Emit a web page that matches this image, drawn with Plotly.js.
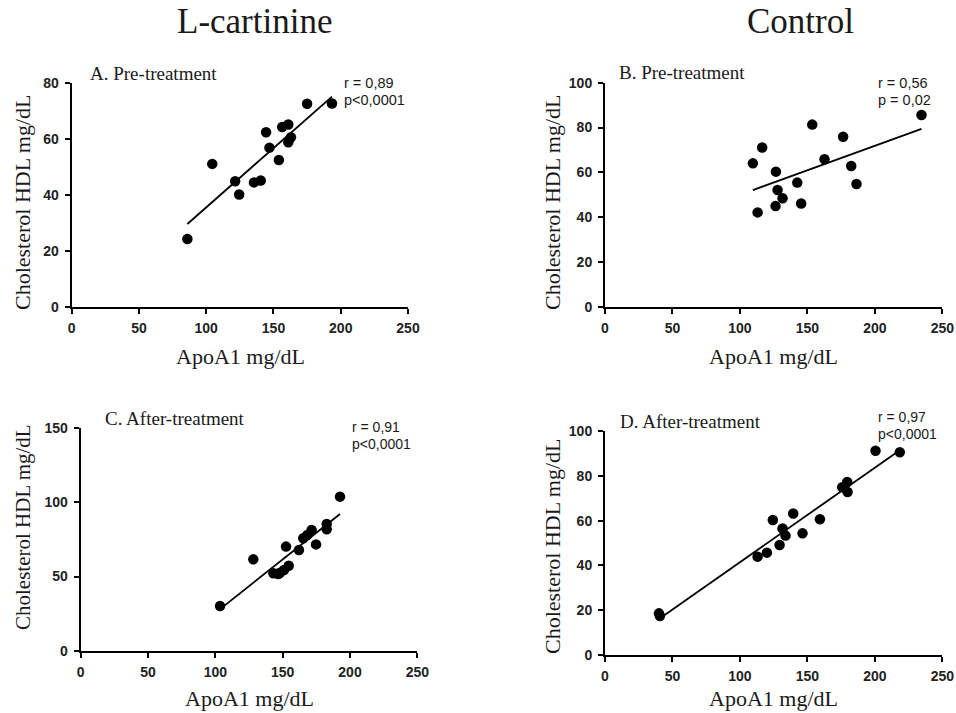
<!DOCTYPE html>
<html>
<head>
<meta charset="utf-8">
<script src="https://cdn.plot.ly/plotly-3.0.1.min.js"></script>
<style>html,body{margin:0;padding:0;background:#fff;}#chart{width:956px;height:713px;}</style>
</head>
<body>
<div id="chart"></div>
<script>
// ---- Data ----
const groupTitles = ["L-cartinine", "Control"];
const panelTitles = ["A. Pre-treatment", "B. Pre-treatment", "C. After-treatment", "D. After-treatment"];
const rLabels = ["r = 0,89", "r = 0,56", "r = 0,91", "r = 0,97"];
const pLabels = ["p&lt;0,0001", "p = 0,02", "p&lt;0,0001", "p&lt;0,0001"];
const xTitle = "ApoA1 mg/dL";
const yTitle = "Cholesterol HDL mg/dL";

// Panel A: L-cartinine, pre-treatment
const apoA_A = [86, 104.5, 121.5, 124.5, 135.5, 140.5, 144.5, 147, 154, 156.5, 161, 163, 161, 175, 193.5];
const hdl_A  = [24.2, 51, 44.8, 40.1, 44.4, 45.1, 62.3, 56.8, 52.4, 64.2, 65.1, 60.5, 58.7, 72.5, 72.6];

// Panel B: Control, pre-treatment
const apoA_B = [109.6, 116.5, 113.1, 126.7, 127.9, 131.6, 126.4, 142.5, 145.4, 153.6, 162.7, 176.5, 182.5, 186.4, 234.6];
const hdl_B  = [64, 71.1, 42.1, 60.3, 52.1, 48.4, 44.9, 55.4, 46.1, 81.3, 65.8, 75.9, 62.8, 54.8, 85.6];

// Panel C: L-cartinine, after-treatment
const apoA_C = [103.5, 128.2, 152.5, 143.1, 146.8, 148, 151, 154.5, 162.1, 165.3, 168.3, 171.5, 174.8, 182.7, 182.7, 192.6];
const hdl_C  = [30.1, 61.6, 70.2, 52.2, 51.7, 52.6, 54.4, 57.3, 67.9, 75.8, 78, 81.4, 71.7, 85.5, 81.9, 103.9];

// Panel D: Control, after-treatment
const apoA_D = [40, 40.7, 113.1, 120, 124.4, 129.4, 131.6, 133.8, 139.5, 146.4, 159.3, 175.8, 179.5, 179.8, 200.5, 218.5];
const hdl_D  = [18.6, 17.4, 43.9, 45.7, 60.3, 49.1, 56.5, 53.3, 63.2, 54.3, 60.6, 74.9, 77.2, 72.8, 91.2, 90.5];

const xTicks = [0, 50, 100, 150, 200, 250];
const yTicksA = [0, 20, 40, 60, 80];
const yTicksB = [0, 20, 40, 60, 80, 100];
const yTicksC = [0, 50, 100, 150];
const yTicksD = [0, 20, 40, 60, 80, 100];

// ---- helpers ----
const W = 956, H = 713;
const px = x => x / W;
const py = y => 1 - y / H;

function fitLine(xs, ys) {
  const n = xs.length;
  const mx = xs.reduce((a, b) => a + b, 0) / n;
  const my = ys.reduce((a, b) => a + b, 0) / n;
  let sxy = 0, sxx = 0;
  for (let i = 0; i < n; i++) { sxy += (xs[i] - mx) * (ys[i] - my); sxx += (xs[i] - mx) ** 2; }
  const b = sxy / sxx, a = my - b * mx;
  const x0 = Math.min(...xs), x1 = Math.max(...xs);
  return { x: [x0, x1], y: [a + b * x0, a + b * x1] };
}

const panels = [
  { xs: apoA_A, ys: hdl_A, xa: 'x', ya: 'y' },
  { xs: apoA_B, ys: hdl_B, xa: 'x2', ya: 'y2' },
  { xs: apoA_C, ys: hdl_C, xa: 'x3', ya: 'y3' },
  { xs: apoA_D, ys: hdl_D, xa: 'x4', ya: 'y4' }
];

const traces = [];
panels.forEach(p => {
  const f = fitLine(p.xs, p.ys);
  traces.push({ x: f.x, y: f.y, xaxis: p.xa, yaxis: p.ya, mode: 'lines', type: 'scatter',
    line: { color: '#000', width: 1.8 }, hoverinfo: 'skip', showlegend: false, cliponaxis: false });
  traces.push({ x: p.xs, y: p.ys, xaxis: p.xa, yaxis: p.ya, mode: 'markers', type: 'scatter',
    marker: { color: '#000', size: 10.5 }, showlegend: false, cliponaxis: false });
});

const tickFont = { family: 'Liberation Sans Narrow, Liberation Sans, Arial, sans-serif', size: 14, color: '#222', weight: 'bold' };
function xAxis(domain, anchor) {
  return { domain: domain, anchor: anchor, range: [0, 250], tickvals: xTicks, ticktext: xTicks.map(String),
    showline: true, linecolor: '#000', linewidth: 2, ticks: 'outside', ticklen: 5, tickwidth: 2, tickcolor: '#000',
    showgrid: false, zeroline: false, tickfont: tickFont, ticklabelstandoff: 2 };
}
function yAxis(domain, anchor, range, tv) {
  return { domain: domain, anchor: anchor, range: range, tickvals: tv, ticktext: tv.map(String),
    showline: true, linecolor: '#000', linewidth: 2, ticks: 'outside', ticklen: 5, tickwidth: 2, tickcolor: '#000',
    showgrid: false, zeroline: false, tickfont: tickFont, ticklabelstandoff: 3 };
}

const serif = 'Liberation Serif, Times New Roman, serif';
const sans = 'Liberation Sans, Arial, sans-serif';
const ann = [];
function txt(x, y, text, size, family, opts) {
  ann.push(Object.assign({ xref: 'paper', yref: 'paper', x: px(x), y: py(y), text: text, showarrow: false,
    xanchor: 'center', yanchor: 'middle', font: { family: family, size: size, color: '#1a1a1a' } }, opts || {}));
}
// group titles
txt(254, 22, groupTitles[0], 35, serif);
txt(800, 22, groupTitles[1], 35, serif);
// panel titles
txt(88, 73, panelTitles[0], 19, serif, { xanchor: 'left' });
txt(617, 72, panelTitles[1], 19, serif, { xanchor: 'left' });
txt(103, 418, panelTitles[2], 19, serif, { xanchor: 'left' });
txt(618, 421, panelTitles[3], 19, serif, { xanchor: 'left' });
// r / p
txt(342, 83, rLabels[0], 14.5, sans, { xanchor: 'left' });
txt(342, 100, pLabels[0], 14.5, sans, { xanchor: 'left' });
txt(876, 83, rLabels[1], 14.5, sans, { xanchor: 'left' });
txt(876, 100, pLabels[1], 14.5, sans, { xanchor: 'left' });
txt(350, 427, rLabels[2], 14, sans, { xanchor: 'left' });
txt(350, 444, pLabels[2], 14, sans, { xanchor: 'left' });
txt(876, 417, rLabels[3], 14, sans, { xanchor: 'left' });
txt(876, 434, pLabels[3], 14, sans, { xanchor: 'left' });
// axis titles
txt(240, 356, xTitle, 22, serif);
txt(773, 356, xTitle, 22, serif);
txt(249, 698, xTitle, 22, serif);
txt(773, 698, xTitle, 22, serif);
txt(22, 202, yTitle, 22, serif, { textangle: -90 });
txt(552, 202, yTitle, 22, serif, { textangle: -90 });
txt(23, 527, yTitle, 21, serif, { textangle: -90 });
txt(552, 546, yTitle, 22, serif, { textangle: -90 });

const layout = {
  width: W, height: H,
  margin: { l: 0, r: 0, t: 0, b: 0 },
  paper_bgcolor: '#fff', plot_bgcolor: '#fff',
  showlegend: false,
  xaxis:  xAxis([px(71.7), px(408)], 'y'),
  yaxis:  yAxis([py(306.7), py(82.7)], 'x', [0, 80], yTicksA),
  xaxis2: xAxis([px(605), px(942.3)], 'y2'),
  yaxis2: yAxis([py(306.7), py(82.7)], 'x2', [0, 100], yTicksB),
  xaxis3: xAxis([px(80.7), px(417.3)], 'y3'),
  yaxis3: yAxis([py(650.7), py(428.3)], 'x3', [0, 150], yTicksC),
  xaxis4: xAxis([px(605), px(942.3)], 'y4'),
  yaxis4: yAxis([py(655), py(431)], 'x4', [0, 100], yTicksD),
  annotations: ann
};

Plotly.newPlot('chart', traces, layout, { staticPlot: true, displayModeBar: false });
</script>
</body>
</html>
